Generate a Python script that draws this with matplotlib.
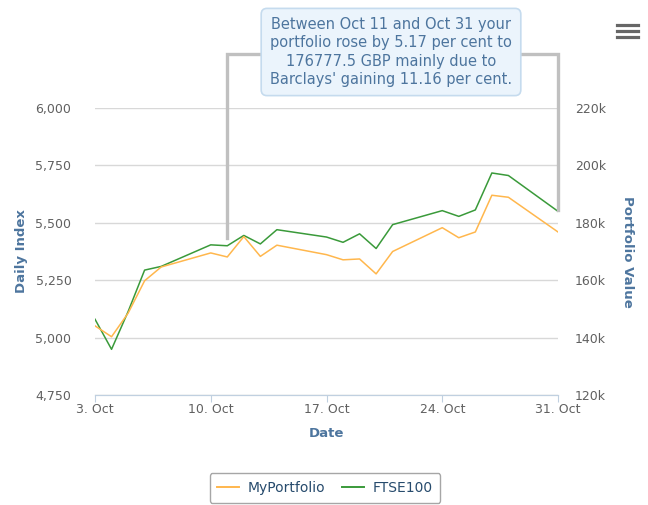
import matplotlib
matplotlib.use("Agg")
import matplotlib.pyplot as plt
from matplotlib.lines import Line2D
from matplotlib.ticker import FuncFormatter

# trading days in October (weekends skipped)
days = [3, 4, 5, 6, 7, 10, 11, 12, 13, 14, 17, 18, 19, 20, 21, 24, 25, 26, 27, 28, 31]
ftse100 = [5080, 4949, 5113, 5294, 5310, 5404, 5400, 5445, 5408, 5470, 5438,
           5415, 5452, 5388, 5492, 5553, 5528, 5556, 5717, 5706, 5550]
portfolio = [144100, 140300, 148500, 159800, 164600, 169500, 168100, 175200, 168300, 172200, 168900,
             167100, 167400, 162200, 170000, 178300, 174800, 176800, 189600, 188900, 176800]

x_ticks = [3, 10, 17, 24, 31]
x_labels = ["3. Oct", "10. Oct", "17. Oct", "24. Oct", "31. Oct"]
left_ticks = [4750, 5000, 5250, 5500, 5750, 6000]
right_ticks = [120000, 140000, 160000, 180000, 200000, 220000]

note = ("Between Oct 11 and Oct 31 your\nportfolio rose by 5.17 per cent to\n"
        "176777.5 GBP mainly due to\nBarclays' gaining 11.16 per cent.")
note_start, note_end = 11, 31

ORANGE = "#FFB74D"
GREEN = "#3A9A3A"
TITLE_C = "#4D759E"
LABEL_C = "#606060"
AXIS_C = "#C0D0E0"
GRID_C = "#D8D8D8"

plt.rcParams['font.family'] = ['DejaVu Sans']

fig = plt.figure(figsize=(6.48, 5.05), dpi=100)
ax = fig.add_axes([95 / 648, 1 - 395 / 505, 463 / 648, 287 / 505])
ax2 = ax.twinx()

ax.plot(days, ftse100, color=GREEN, lw=1.1, zorder=4)
ax2.plot(days, portfolio, color=ORANGE, lw=1.1, zorder=3)

ax.set_xlim(3, 31)
ax.set_ylim(4750, 6000)
ax2.set_ylim(120000, 220000)

ax.set_yticks(left_ticks)
ax.yaxis.set_major_formatter(FuncFormatter(lambda v, p: f"{int(v):,}"))
ax2.set_yticks(right_ticks)
ax2.yaxis.set_major_formatter(FuncFormatter(lambda v, p: f"{int(v / 1000)}k"))

ax.set_xticks(x_ticks)
ax.set_xticklabels(x_labels)

ax.grid(axis="y", color=GRID_C, lw=1.0)
ax.set_axisbelow(True)
for a in (ax, ax2):
    for s in ("left", "right", "top"):
        a.spines[s].set_visible(False)
    a.spines["bottom"].set_color(AXIS_C)
ax.tick_params(axis="y", length=0, labelsize=9, labelcolor=LABEL_C, pad=17)
ax2.tick_params(axis="y", length=0, labelsize=9, labelcolor=LABEL_C, pad=12)
ax.tick_params(axis="x", length=5, color=AXIS_C, labelsize=9, labelcolor=LABEL_C, pad=1)

ax.set_xlabel("Date", color=TITLE_C, fontsize=9.5, fontweight="bold", labelpad=8)
ax.set_ylabel("Daily Index", color=TITLE_C, fontsize=9.5, fontweight="bold")
ax2.set_ylabel("Portfolio Value", color=TITLE_C, fontsize=9.5, fontweight="bold",
               rotation=270, labelpad=20)
ax.yaxis.set_label_coords(-0.145, 0.5)

# bracket from Oct 11 to Oct 31 joining the note
i0 = days.index(note_start)
i1 = days.index(note_end)
top = 6235
ax.plot([note_start, note_start, note_end, note_end],
        [ftse100[i0] + 35, top, top, ftse100[i1] + 7],
        color="#C0C0C0", lw=2.4, clip_on=False, zorder=5, solid_joinstyle="miter")

fig.text(391 / 648, 1 - 52 / 505, note, ha="center", va="center", fontsize=10.5,
         color=TITLE_C, linespacing=1.27, zorder=10,
         bbox=dict(boxstyle="round,pad=0.6,rounding_size=0.4", fc="#EBF4FC", ec="#C5DBEE", lw=1.2))

# menu icon
for yy in (25, 31, 37):
    fig.add_artist(Line2D([617 / 648, 638 / 648], [1 - yy / 505] * 2, color="#666666", lw=2.3))

handles = [Line2D([], [], color=ORANGE, lw=1.4), Line2D([], [], color=GREEN, lw=1.4)]
leg = fig.legend(handles, ["MyPortfolio", "FTSE100"], loc="center", bbox_to_anchor=(325 / 648, 1 - 488 / 505),
                 ncol=2, frameon=True, fontsize=10, handlelength=1.6, columnspacing=1.2,
                 handletextpad=0.6, borderpad=0.55, fancybox=True)
leg.get_frame().set_edgecolor("#909090")
leg.get_frame().set_linewidth(1.0)
for t in leg.get_texts():
    t.set_color("#274B6D")

fig.savefig("out.png", dpi=100)
